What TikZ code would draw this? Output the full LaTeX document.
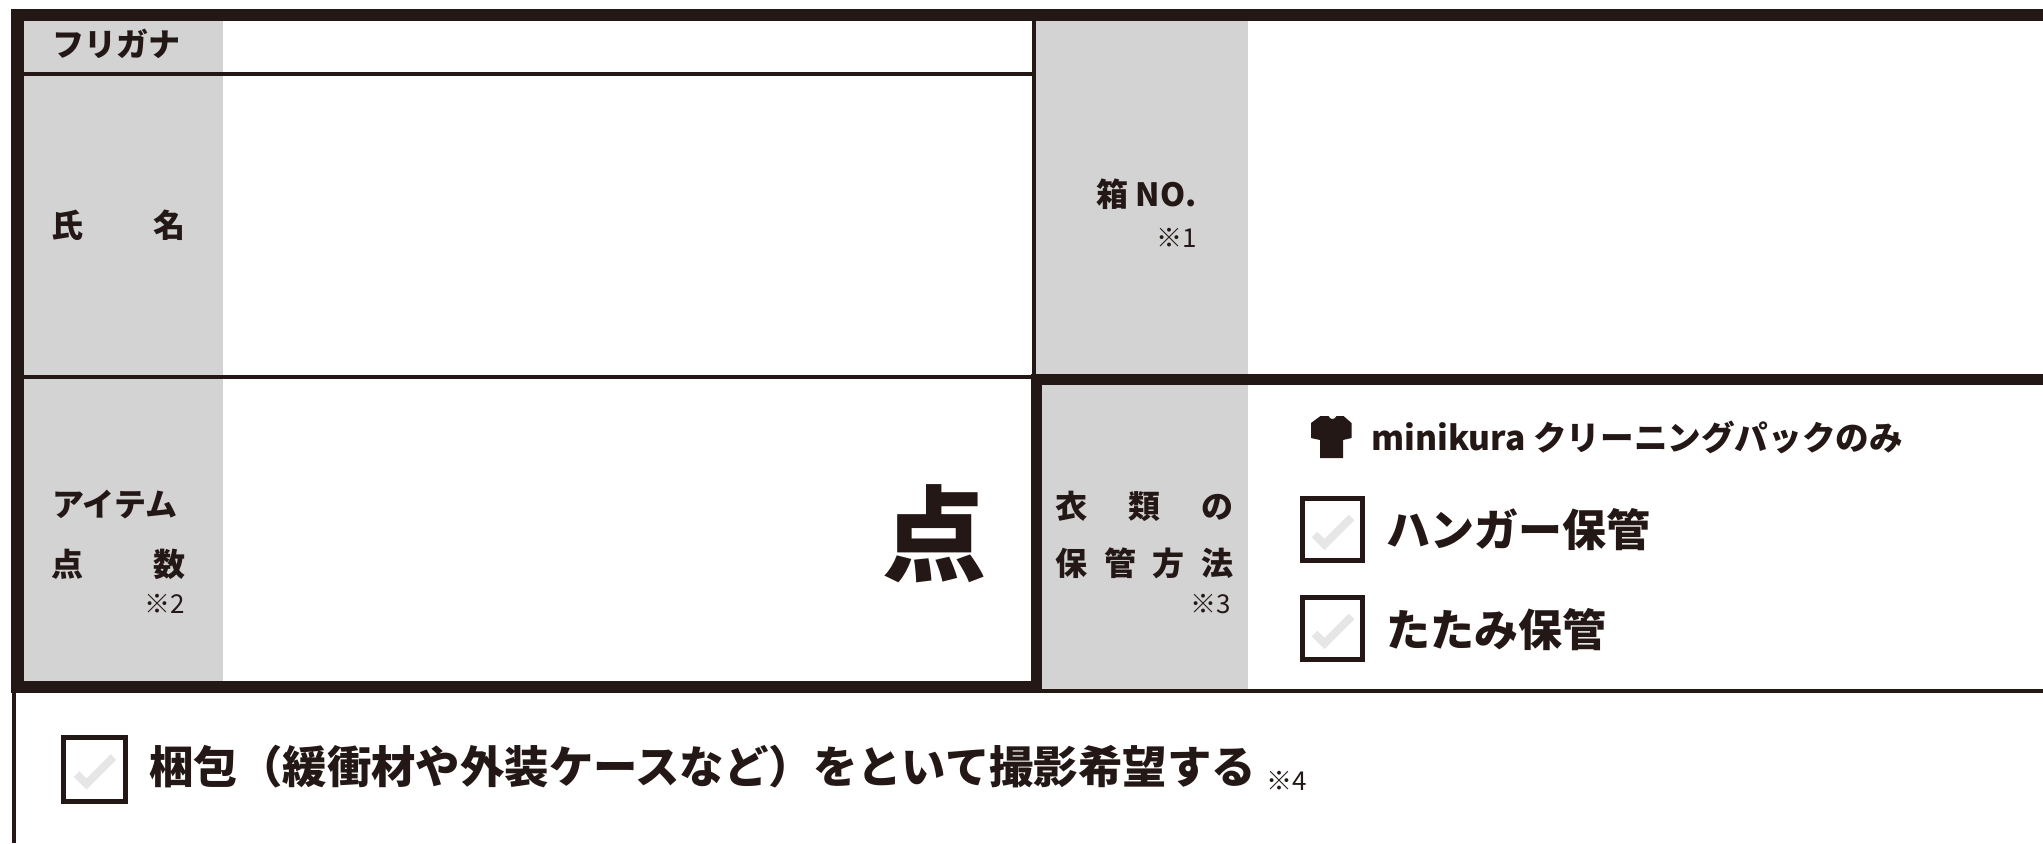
\documentclass[tikz,border=0pt]{standalone}
\usepackage{fontspec}
\newfontfamily\jp{Noto Sans CJK JP}
\definecolor{ink}{HTML}{231815}
\definecolor{labelgray}{HTML}{D3D3D3}
\definecolor{tickgray}{HTML}{E6E6E6}
\begin{document}
\begin{tikzpicture}[x=0.5pt, y=-0.5pt,
    lbl/.style={inner sep=0pt, text=ink, font=\jp\bfseries\fontsize{16}{16}\selectfont},
    note/.style={inner sep=0pt, text=ink, font=\jp\fontsize{13}{13}\selectfont},
    opt/.style={inner sep=0pt, text=ink, anchor=west, font=\jp\bfseries\fontsize{22}{22}\selectfont},
    chkbox/.style={draw=ink, line width=2.5pt, minimum width=30pt, minimum height=31pt, inner sep=0pt},
    tickmark/.style={draw=tickgray, line width=4pt}]
  \useasboundingbox (0,0) rectangle (2043,843);
  % label columns
  \fill[labelgray] (23,21) rectangle (223,681);
  \fill[labelgray] (1036,21) rectangle (1248,689);
  % frame
  \fill[ink] (11,9) rectangle (2043,21);
  \fill[ink] (11,9) rectangle (23.5,693);
  \fill[ink] (11,681) rectangle (1042,693);
  \fill[ink] (23,72) rectangle (1036,76);
  \fill[ink] (23,375) rectangle (1036,379);
  \fill[ink] (1032,21) rectangle (1036,375);
  \fill[ink] (1031,374) rectangle (2043,385);
  \fill[ink] (1031,374) rectangle (1042,693);
  \fill[ink] (1042,689) rectangle (2043,693);
  \fill[ink] (11.5,693) rectangle (15.5,843);
  % labels
  \node[lbl, anchor=west] (furigana) at (52,44) {フリガナ};
  \node[lbl, anchor=west] (shimei) at (51,225) {\hbox to 67pt{氏\hfill 名}};
  \node[lbl, anchor=west] (item) at (52,504) {アイテム};
  \node[lbl, anchor=west] (tensu) at (51,564) {\hbox to 67pt{点\hfill 数}};
  \node[note, anchor=east] (note2) at (185,604) {※2};
  \node[inner sep=0pt, text=ink, font=\jp\bfseries\fontsize{52}{52}\selectfont] (ten) at (934,534) {点};
  \node[lbl, anchor=east] (hako) at (1197,194) {箱 NO.};
  \node[note, anchor=east] (note1) at (1197,238) {※1};
  \node[lbl, anchor=west] (irui) at (1055,506) {\hbox to 89pt{衣\hfill 類\hfill の}};
  \node[lbl, anchor=west] (hokan) at (1055,563) {\hbox to 89pt{保\hfill 管\hfill 方\hfill 法}};
  \node[note, anchor=east] (note3) at (1231,604) {※3};
  % clothing options
  \fill[ink] (1320.5,416) -- (1328.5,416) .. controls (1330,420) and (1335,420) .. (1336.5,416)
    -- (1343.5,416) -- (1351.5,423) -- (1351.5,438) -- (1343,440) -- (1343,458) -- (1320,458)
    -- (1320,440) -- (1311,438) -- (1311,423) -- cycle;
  \node[inner sep=0pt, text=ink, anchor=west, font=\jp\bfseries\fontsize{16.8}{16.8}\selectfont] (pack) at (1371,437) {minikura クリーニングパックのみ};
  \node[chkbox] (hanger) at (1332.5,529.5) {};
  \node[opt] (hangertext) at (1386,530) {ハンガー保管};
  \node[chkbox] (fold) at (1332.5,628.5) {};
  \node[opt] (foldtext) at (1386,630) {たたみ保管};
  % unpacking
  \node[chkbox, minimum width=31pt, minimum height=32pt] (unpack) at (94.5,769) {};
  \node[opt, font=\jp\bfseries\fontsize{22.2}{22.2}\selectfont] (unpacktext) at (149,767) {梱包（緩衝材や外装ケースなど）をといて撮影希望する};
  \node[note, anchor=west] (note4) at (1266,781) {※4};
  \foreach \b in {hanger,fold,unpack}
    \draw[tickmark] ([shift={(-18,5)}]\b.center) -- ([shift={(-8,15)}]\b.center) -- ([shift={(19,-12)}]\b.center);
\end{tikzpicture}
\end{document}
